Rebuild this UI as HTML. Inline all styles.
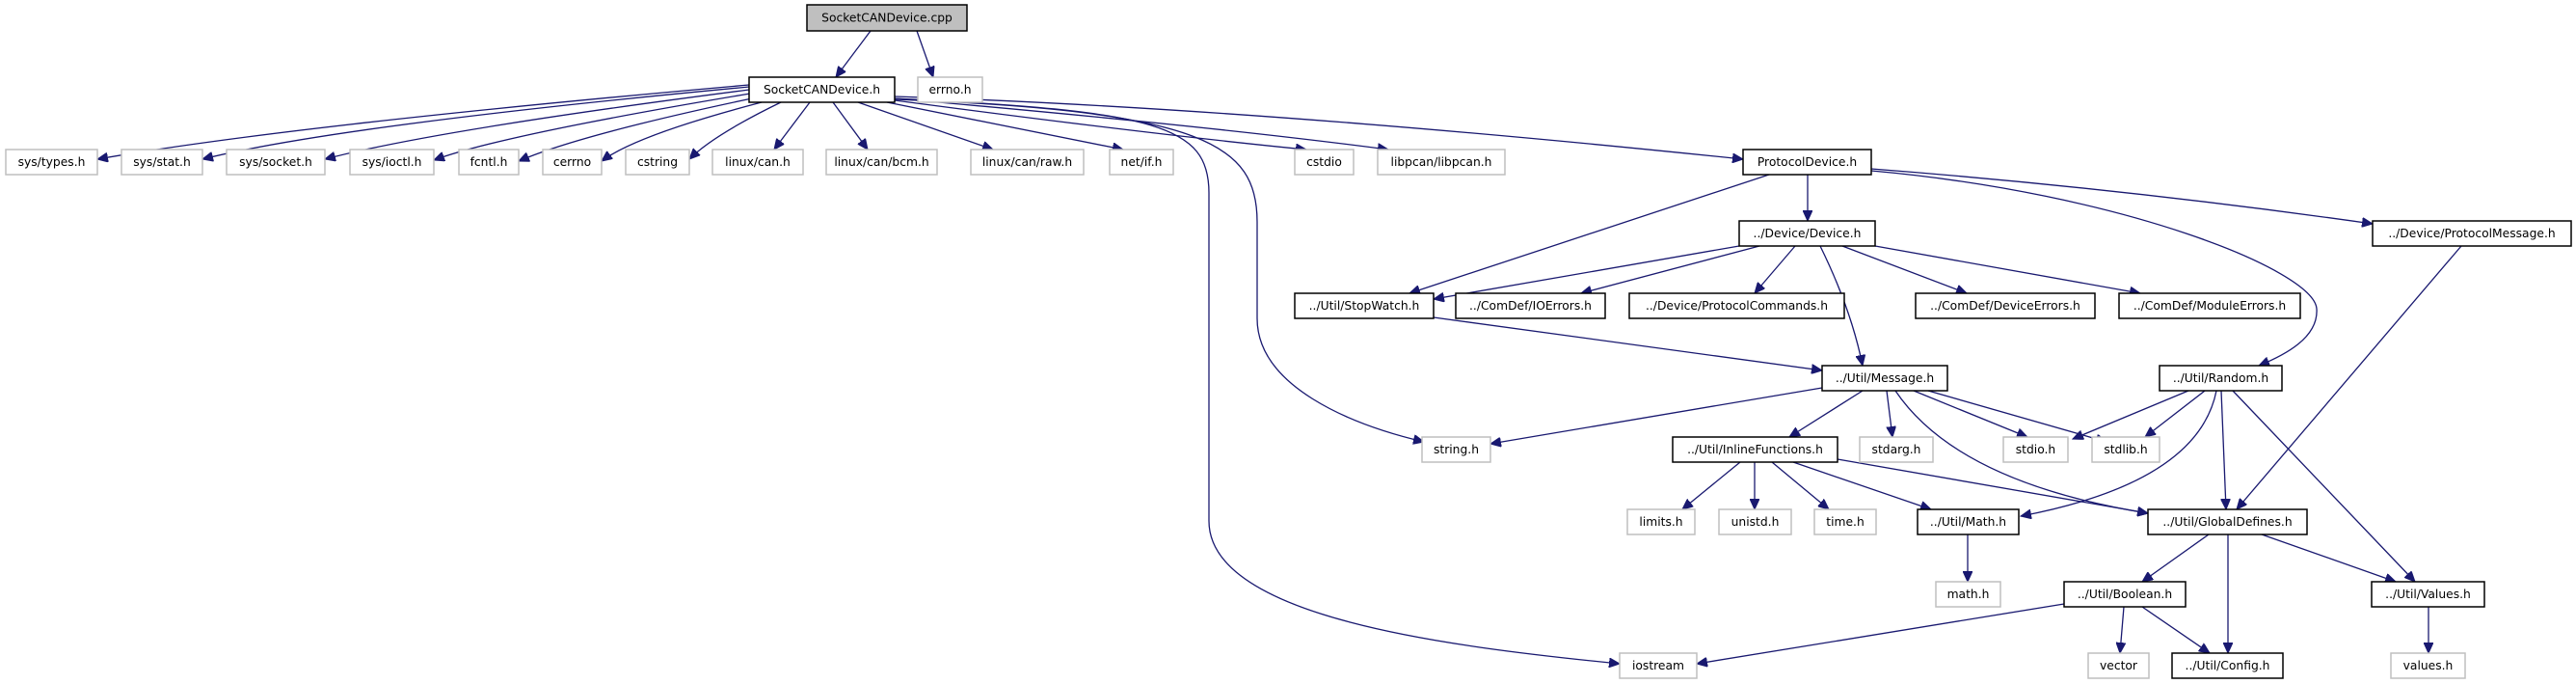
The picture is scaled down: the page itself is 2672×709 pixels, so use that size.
<!DOCTYPE html>
<html><head><meta charset="utf-8"><style>
html,body{margin:0;padding:0;background:#fff;}
svg{display:block;}
text{font-family:"DejaVu Sans","Liberation Sans",sans-serif;font-size:12.3px;fill:#000;text-anchor:middle;dominant-baseline:central;}
.n{fill:#fff;stroke:#000;stroke-width:1.5;}
.g{fill:#fff;stroke:#bfbfbf;stroke-width:1.5;}
.c{fill:#bfbfbf;stroke:#000;stroke-width:1.5;}
path{fill:none;stroke:#191970;stroke-width:1.3;}
</style></head><body>
<svg width="2672" height="709" viewBox="0 0 2672 709" xmlns="http://www.w3.org/2000/svg">
<defs><marker id="a" markerUnits="userSpaceOnUse" markerWidth="12" markerHeight="10" refX="11" refY="5" orient="auto"><path d="M0,0 L11,5 L0,10 Z" style="fill:#191970;stroke:#191970;stroke-width:1"/></marker></defs>
<g marker-end="url(#a)">
<path d="M903,32 L867,80"/>
<path d="M951,32 L968,80"/>
<path d="M777,88 Q300,130 101,165"/>
<path d="M777,90 Q350,130 210,165"/>
<path d="M777,93 Q450,135 337,165"/>
<path d="M778,97 Q520,140 450,166"/>
<path d="M780,102 Q600,140 538,167"/>
<path d="M790,106 Q660,140 624,167"/>
<path d="M810,106 Q740,140 715,165"/>
<path d="M840,106 L803,155"/>
<path d="M864,106 L900,155"/>
<path d="M890,106 L1030,155"/>
<path d="M920,106 L1165,155"/>
<path d="M928,104 Q1200,140 1355,155"/>
<path d="M928,102 Q1250,130 1440,155"/>
<path d="M928,100 Q1300,112 1808,165"/>
<path d="M928,103 C1250,115 1304,150 1304,230 L1304,330 C1304,400 1400,440 1477,458"/>
<path d="M928,102 C1200,115 1254,130 1254,200 L1254,540 C1254,640 1500,670 1680,688"/>
<path d="M1875,181 L1875,229"/>
<path d="M1835,181 L1462,304"/>
<path d="M1941,175 Q2200,195 2461,232"/>
<path d="M1941,177 C2200,200 2400,280 2403,320 C2405,350 2370,368 2343,379"/>
<path d="M1804,255 L1487,310"/>
<path d="M1825,255 L1640,304"/>
<path d="M1862,255 L1820,304"/>
<path d="M1911,255 L2040,304"/>
<path d="M1945,255 L2220,304"/>
<path d="M1888,255 Q1920,320 1932,379"/>
<path d="M1487,329 L1890,384"/>
<path d="M1890,402 L1546,460"/>
<path d="M1932,405 L1856,453"/>
<path d="M1957,405 L1963,453"/>
<path d="M1985,405 L2103,453"/>
<path d="M2000,405 L2185,458"/>
<path d="M1966,405 Q2030,500 2228,532"/>
<path d="M2270,405 L2150,455"/>
<path d="M2287,405 L2225,453"/>
<path d="M2299,405 Q2280,500 2096,535"/>
<path d="M2304,405 L2309,528"/>
<path d="M2316,405 L2505,603"/>
<path d="M2553,255 L2320,528"/>
<path d="M1805,479 L1745,528"/>
<path d="M1820,479 L1820,528"/>
<path d="M1838,479 L1897,528"/>
<path d="M1860,479 L2003,528"/>
<path d="M1906,476 L2228,532"/>
<path d="M2041,554 L2041,603"/>
<path d="M2291,554 L2222,603"/>
<path d="M2311,554 L2311,677"/>
<path d="M2346,554 L2485,603"/>
<path d="M2203,629 L2199,677"/>
<path d="M2222,629 L2292,677"/>
<path d="M2141,626 L1760,688"/>
<path d="M2519,629 L2519,677"/>
</g>
<g>
<rect class="c" x="837" y="5" width="166" height="27"/><text x="920" y="18.5">SocketCANDevice.cpp</text>
<rect class="n" x="777" y="80" width="151" height="26"/><text x="852.5" y="93">SocketCANDevice.h</text>
<rect class="g" x="952" y="80" width="67" height="26"/><text x="985.5" y="93">errno.h</text>

<rect class="g" x="6" y="155" width="95" height="26"/><text x="53.5" y="168">sys/types.h</text>
<rect class="g" x="126" y="155" width="84" height="26"/><text x="168" y="168">sys/stat.h</text>
<rect class="g" x="235" y="155" width="102" height="26"/><text x="286" y="168">sys/socket.h</text>
<rect class="g" x="363" y="155" width="87" height="26"/><text x="406.5" y="168">sys/ioctl.h</text>
<rect class="g" x="476" y="155" width="62" height="26"/><text x="507" y="168">fcntl.h</text>
<rect class="g" x="563" y="155" width="61" height="26"/><text x="593.5" y="168">cerrno</text>
<rect class="g" x="649" y="155" width="66" height="26"/><text x="682" y="168">cstring</text>
<rect class="g" x="739" y="155" width="94" height="26"/><text x="786" y="168">linux/can.h</text>
<rect class="g" x="857" y="155" width="115" height="26"/><text x="914.5" y="168">linux/can/bcm.h</text>
<rect class="g" x="1007" y="155" width="117" height="26"/><text x="1065.5" y="168">linux/can/raw.h</text>
<rect class="g" x="1151" y="155" width="66" height="26"/><text x="1184" y="168">net/if.h</text>
<rect class="g" x="1343" y="155" width="61" height="26"/><text x="1373.5" y="168">cstdio</text>
<rect class="g" x="1429" y="155" width="132" height="26"/><text x="1495" y="168">libpcan/libpcan.h</text>
<rect class="n" x="1808" y="155" width="133" height="26"/><text x="1874.5" y="168">ProtocolDevice.h</text>

<rect class="n" x="1804" y="229" width="141" height="26"/><text x="1874.5" y="242">../Device/Device.h</text>
<rect class="n" x="2461" y="229" width="206" height="26"/><text x="2564" y="242">../Device/ProtocolMessage.h</text>

<rect class="n" x="1343" y="304" width="144" height="26"/><text x="1415" y="317">../Util/StopWatch.h</text>
<rect class="n" x="1510" y="304" width="155" height="26"/><text x="1587.5" y="317">../ComDef/IOErrors.h</text>
<rect class="n" x="1690" y="304" width="223" height="26"/><text x="1801.5" y="317">../Device/ProtocolCommands.h</text>
<rect class="n" x="1987" y="304" width="186" height="26"/><text x="2080" y="317">../ComDef/DeviceErrors.h</text>
<rect class="n" x="2198" y="304" width="188" height="26"/><text x="2292" y="317">../ComDef/ModuleErrors.h</text>

<rect class="n" x="1890" y="379" width="130" height="26"/><text x="1955" y="392">../Util/Message.h</text>
<rect class="n" x="2240" y="379" width="127" height="26"/><text x="2303.5" y="392">../Util/Random.h</text>

<rect class="g" x="1475" y="453" width="71" height="26"/><text x="1510.5" y="466">string.h</text>
<rect class="n" x="1735" y="453" width="171" height="26"/><text x="1820.5" y="466">../Util/InlineFunctions.h</text>
<rect class="g" x="1929" y="453" width="76" height="26"/><text x="1967" y="466">stdarg.h</text>
<rect class="g" x="2078" y="453" width="67" height="26"/><text x="2111.5" y="466">stdio.h</text>
<rect class="g" x="2170" y="453" width="70" height="26"/><text x="2205" y="466">stdlib.h</text>

<rect class="g" x="1688" y="528" width="70" height="26"/><text x="1723" y="541">limits.h</text>
<rect class="g" x="1783" y="528" width="75" height="26"/><text x="1820.5" y="541">unistd.h</text>
<rect class="g" x="1882" y="528" width="64" height="26"/><text x="1914" y="541">time.h</text>
<rect class="n" x="1989" y="528" width="105" height="26"/><text x="2041.5" y="541">../Util/Math.h</text>
<rect class="n" x="2228" y="528" width="165" height="26"/><text x="2310.5" y="541">../Util/GlobalDefines.h</text>

<rect class="g" x="2008" y="603" width="67" height="26"/><text x="2041.5" y="616">math.h</text>
<rect class="n" x="2141" y="603" width="126" height="26"/><text x="2204" y="616">../Util/Boolean.h</text>
<rect class="n" x="2460" y="603" width="117" height="26"/><text x="2518.5" y="616">../Util/Values.h</text>

<rect class="g" x="1680" y="677" width="80" height="26"/><text x="1720" y="690">iostream</text>
<rect class="g" x="2166" y="677" width="63" height="26"/><text x="2197.5" y="690">vector</text>
<rect class="n" x="2253" y="677" width="115" height="26"/><text x="2310.5" y="690">../Util/Config.h</text>
<rect class="g" x="2480" y="677" width="77" height="26"/><text x="2518.5" y="690">values.h</text>
</g>
</svg>
</body></html>
